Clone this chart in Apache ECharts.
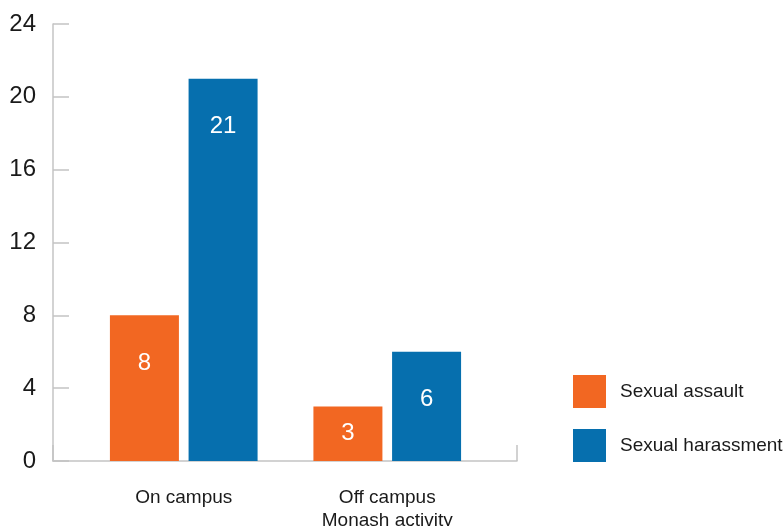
<!DOCTYPE html>
<html>
<head>
<meta charset="utf-8">
<script src="https://cdn.jsdelivr.net/npm/echarts@6/dist/echarts.min.js"></script>
<style>
  html, body { margin: 0; padding: 0; background: #fff; }
  #chart { width: 784px; height: 526px; }
</style>
</head>
<body>
<div id="chart"></div>
<script>
const categories = ['On campus', 'Off campus\nMonash activity']
const assault = [8, 3]
const harassment = [21, 6]
const yTicks = { min: 0, max: 24, interval: 4 }

const ORANGE = '#f26722'
const BLUE = '#066fae'
const AXIS = '#c4c4c4'
const FONT = '"Liberation Sans", Arial, sans-serif'

const chart = echarts.init(document.getElementById('chart'))

// short bars get the label centred, tall ones near the top
const withLabels = (vals) => vals.map((v) => ({
  value: v,
  label: v < 5 ? { position: 'inside' } : { position: 'insideTop', distance: 36 },
}))

const barLabel = {
  show: true,
  color: '#fff',
  fontSize: 24,
  fontFamily: FONT,
}

chart.setOption({
  animation: false,
  textStyle: { fontFamily: FONT },
  legend: {
    orient: 'vertical',
    left: 568,
    top: 370,
    itemWidth: 33,
    itemHeight: 33,
    itemGap: 21,
    icon: 'rect',
    textStyle: { fontSize: 19, color: '#1a1a1a', padding: [0, 0, 0, 9] },
    data: ['Sexual assault', 'Sexual harassment'],
  },
  grid: [
    // frame: y axis + bare x axis line
    { left: 53, top: 24, width: 464, height: 437, outerBoundsMode: 'none' },
    // bars sit in a narrower grid inside the frame
    { left: 82, top: 24, width: 407, height: 437, outerBoundsMode: 'none' },
  ],
  xAxis: [
    {
      gridIndex: 0,
      type: 'value',
      min: 0,
      max: 1,
      interval: 1,
      axisLine: { show: true, lineStyle: { color: AXIS, width: 1.5 } },
      axisTick: { show: true, inside: true, length: 16, lineStyle: { color: AXIS, width: 1.5 } },
      axisLabel: { show: false },
      splitLine: { show: false },
    },
    {
      gridIndex: 1,
      type: 'category',
      data: categories,
      axisLine: { show: false },
      axisTick: { show: false },
      axisLabel: {
        color: '#1a1a1a',
        fontSize: 19,
        lineHeight: 23,
        margin: 25,
        interval: 0,
      },
    },
  ],
  yAxis: [
    {
      gridIndex: 0,
      type: 'value',
      ...yTicks,
      axisLine: { show: true, lineStyle: { color: AXIS, width: 1.5 } },
      axisTick: { show: true, inside: true, length: 16, lineStyle: { color: AXIS, width: 1.5 } },
      axisLabel: { color: '#1a1a1a', fontSize: 24, margin: 17 },
      splitLine: { show: false },
    },
    {
      gridIndex: 1,
      type: 'value',
      ...yTicks,
      show: false,
    },
  ],
  series: [
    {
      name: 'Sexual assault',
      type: 'bar',
      xAxisIndex: 1,
      yAxisIndex: 1,
      barWidth: 69,
      barGap: '14%',
      itemStyle: { color: ORANGE },
      label: barLabel,
      data: withLabels(assault),
    },
    {
      name: 'Sexual harassment',
      type: 'bar',
      xAxisIndex: 1,
      yAxisIndex: 1,
      barWidth: 69,
      barGap: '14%',
      itemStyle: { color: BLUE },
      label: barLabel,
      data: withLabels(harassment),
    },
  ],
})

window.addEventListener('resize', () => chart.resize())
</script>
</body>
</html>
